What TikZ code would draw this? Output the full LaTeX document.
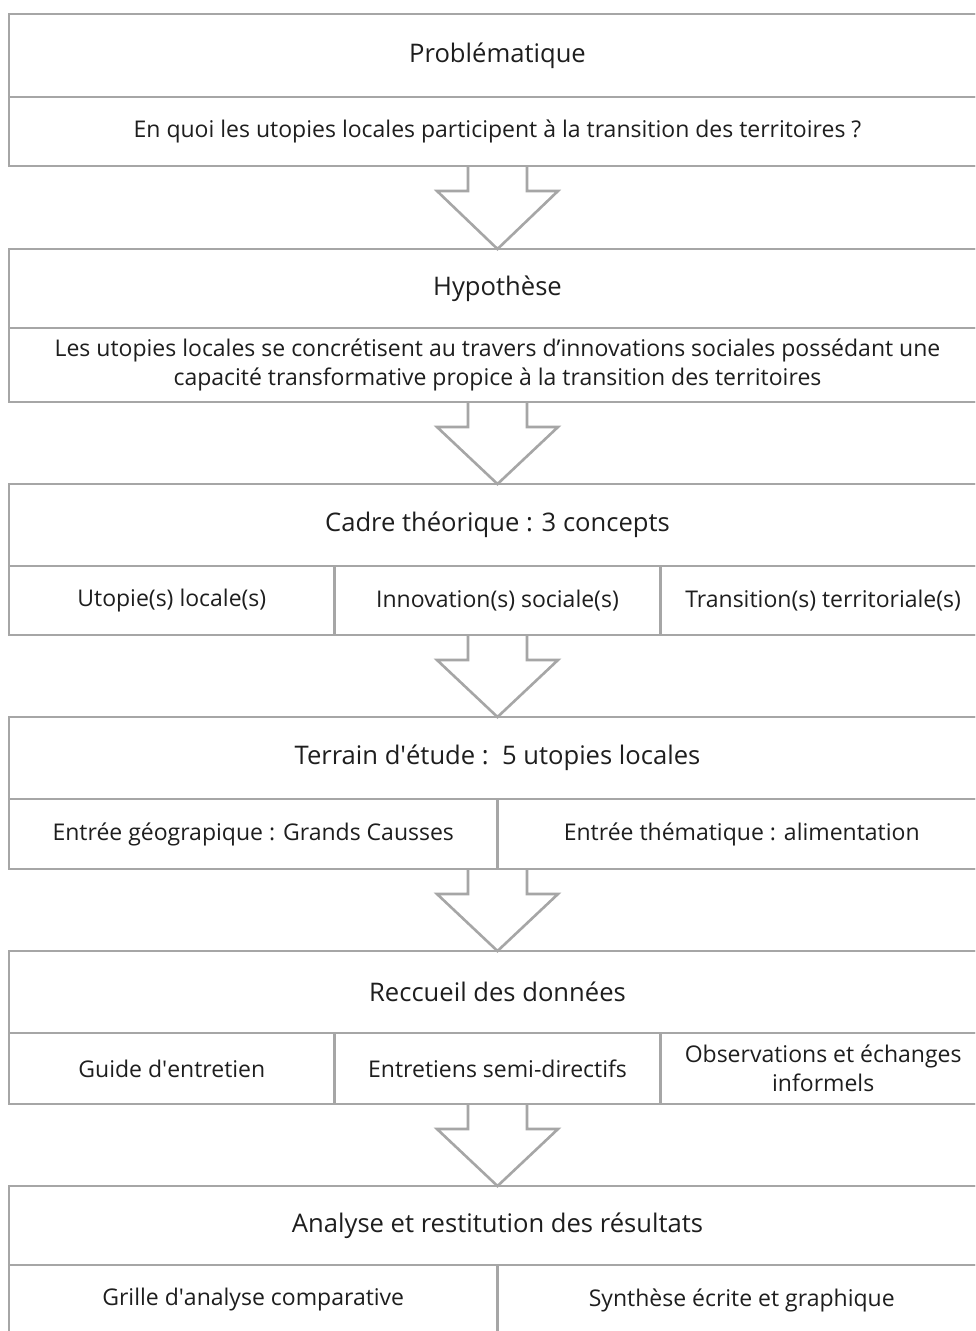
\documentclass[tikz,border=0pt]{standalone}
\usepackage{fontspec}
\setmainfont{Open Sans}
\usetikzlibrary{calc}
\definecolor{rule}{RGB}{166,166,166}
\definecolor{ink}{RGB}{30,30,30}
\tikzset{
  frame/.style={draw=rule, line width=2.6pt, inner sep=0pt, outer sep=0pt, anchor=north west},
  head/.style={frame, text=ink, font=\fontsize{25.6}{28}\selectfont, align=center},
  cell/.style={frame, text=ink, font=\fontsize{23}{28.5}\selectfont, align=center},
  flowline/.style={draw=rule, line width=2.6pt, line join=miter}
}
% hollow block arrow from the bottom of one box to the top of the next
\newcommand{\flowarrow}[2]{%
  \draw[flowline] ($(#1.south)+(-29.5,0)$) -- ++(0,25) -- ++(-31,0) -- (#2.north)
    -- ($(#1.south)+(60.5,25)$) -- ++(-31,0) -- ++(0,-25);
}
\begin{document}
\begin{tikzpicture}[x=1pt,y=-1pt]
\useasboundingbox (0,0) rectangle (975,1331);
\clip (0,0) rectangle (975,1331);
\fill[white] (0,0) rectangle (975,1331);

% Problématique
\node[frame, minimum width=977, minimum height=152] (b1) at (9,14) {};
\node[head, minimum width=977, minimum height=83] (h1) at (9,14) {Problématique};
\node[cell, minimum width=977, minimum height=69] (c1) at (9,97) {En quoi les utopies locales participent à la transition des territoires ?};

% Hypothèse
\node[frame, minimum width=977, minimum height=153] (b2) at (9,249) {};
\node[head, minimum width=977, minimum height=79] (h2) at (9,249) {Hypothèse};
\node[cell, minimum width=977, minimum height=74] (c2) at (9,328) {Les utopies locales se concrétisent au travers d’innovations sociales possédant une\\capacité transformative propice à la transition des territoires};

% Cadre théorique
\node[frame, minimum width=977, minimum height=151] (b3) at (9,484) {};
\node[head, minimum width=977, minimum height=82] (h3) at (9,484) {Cadre théorique : 3 concepts};
\node[cell, minimum width=325.67, minimum height=69] (c31) at (9,566) {Utopie(s) locale(s)};
\node[cell, minimum width=325.67, minimum height=69] (c32) at (334.67,566) {Innovation(s) sociale(s)};
\node[cell, minimum width=325.67, minimum height=69] (c33) at (660.33,566) {Transition(s) territoriale(s)};

% Terrain d'étude
\node[frame, minimum width=977, minimum height=152] (b4) at (9,717) {};
\node[head, minimum width=977, minimum height=82] (h4) at (9,717) {Terrain d\textquotesingle étude :\ \ 5 utopies locales};
\node[cell, minimum width=488.5, minimum height=70] (c41) at (9,799) {Entrée géograpique : Grands Causses};
\node[cell, minimum width=488.5, minimum height=70] (c42) at (497.5,799) {Entrée thématique : alimentation};

% Recueil des données
\node[frame, minimum width=977, minimum height=153] (b5) at (9,951) {};
\node[head, minimum width=977, minimum height=82] (h5) at (9,951) {Reccueil des données};
\node[cell, minimum width=325.67, minimum height=71] (c51) at (9,1033) {Guide d\textquotesingle entretien};
\node[cell, minimum width=325.67, minimum height=71] (c52) at (334.67,1033) {Entretiens semi-directifs};
\node[cell, minimum width=325.67, minimum height=71] (c53) at (660.33,1033) {Observations et échanges\\informels};

% Analyse et restitution
\node[frame, minimum width=977, minimum height=160] (b6) at (9,1186) {};
\node[head, minimum width=977, minimum height=79] (h6) at (9,1186) {Analyse et restitution des résultats};
\node[cell, minimum width=488.5, minimum height=70] (c61) at (9,1265) {Grille d\textquotesingle analyse comparative};
\node[cell, minimum width=488.5, minimum height=70] (c62) at (497.5,1265) {Synthèse écrite et graphique};

% arrows between the stages
\flowarrow{b1}{b2}
\flowarrow{b2}{b3}
\flowarrow{b3}{b4}
\flowarrow{b4}{b5}
\flowarrow{b5}{b6}
\end{tikzpicture}
\end{document}
